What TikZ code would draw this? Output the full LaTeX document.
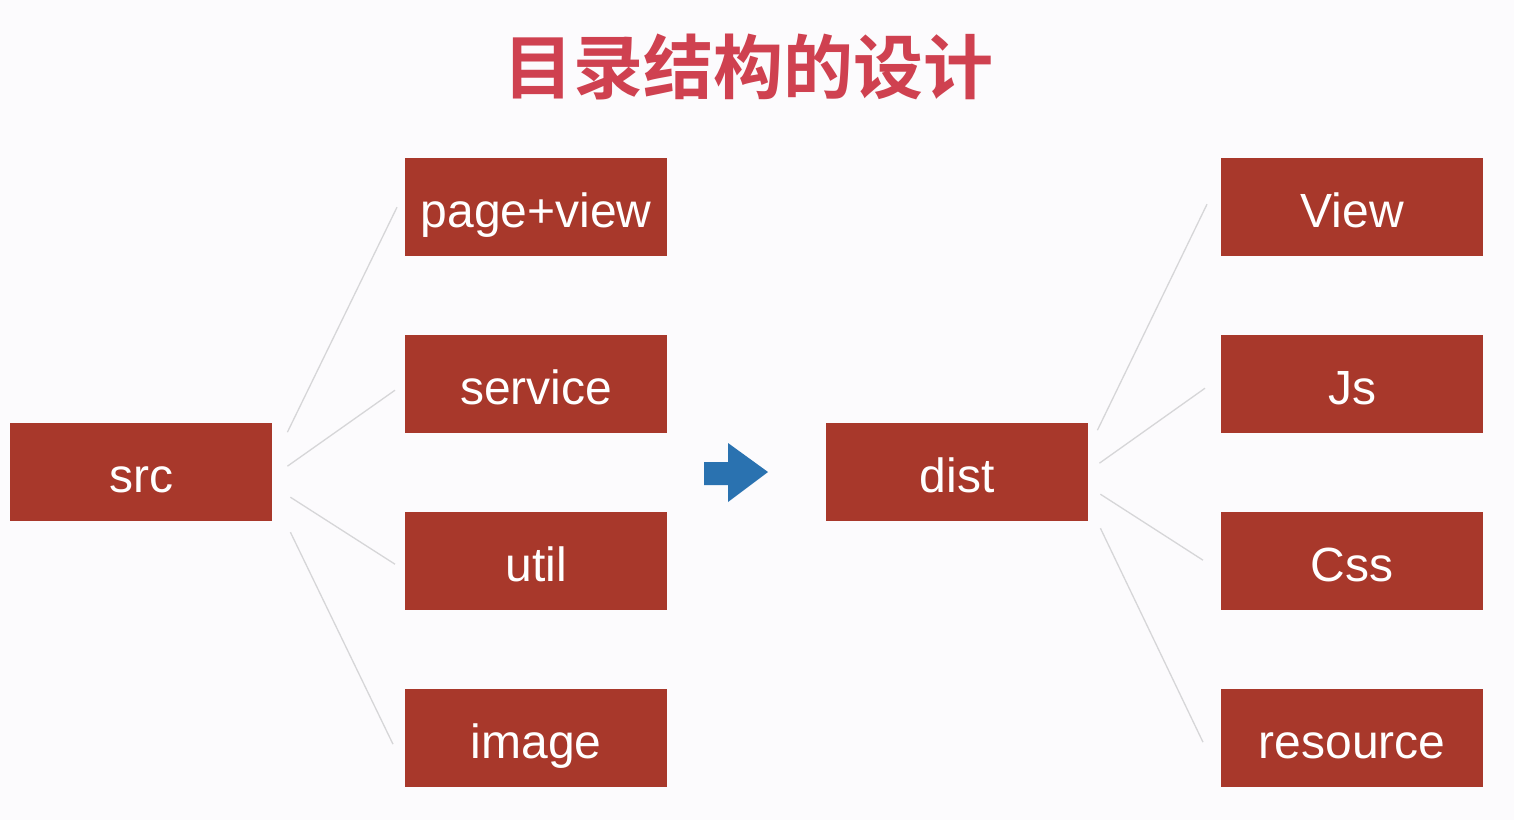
\documentclass[tikz,border=0pt]{standalone}
\usepackage{fontspec}
\setmainfont{Liberation Sans}
\newfontfamily\cjk{Noto Sans CJK SC Bold}
\definecolor{boxred}{HTML}{A8382B}
\definecolor{titlered}{HTML}{CF4150}
\definecolor{bgc}{HTML}{FCFBFD}
\definecolor{linec}{HTML}{D6D6D8}
\definecolor{arrowblue}{HTML}{2A72B0}
\tikzset{
  dirbox/.style={fill=boxred, draw=none, minimum width=262pt, minimum height=98pt, inner sep=0pt, text height=40pt, text depth=0pt, text=white, font=\fontsize{48}{52}\selectfont, anchor=north west},
  link/.style={draw=linec, line width=1.3pt},
}
\begin{document}
\begin{tikzpicture}[x=1pt,y=-1pt]
\fill[bgc] (0,0) rectangle (1514,820);
\useasboundingbox (0,0) rectangle (1514,820);
\node[text=titlered, font=\cjk\fontsize{70}{80}\selectfont, inner sep=0pt] (title) at (748,67) {目录结构的设计};
% left tree
\node[dirbox] (src) at (10,423) {src};
\node[dirbox] (pv) at (405,158) {page+view};
\node[dirbox] (service) at (405,335) {service};
\node[dirbox] (util) at (405,512) {util};
\node[dirbox] (image) at (405,689) {image};
% right tree
\node[dirbox] (dist) at (826,423) {dist};
\node[dirbox] (view) at (1221,158) {View};
\node[dirbox] (js) at (1221,335) {Js};
\node[dirbox] (css) at (1221,512) {Css};
\node[dirbox] (res) at (1221,689) {resource};
% connectors
\draw[link] ([shift={(15,-40)}]src.east) -- ([shift={(-8,0)}]pv.west);
\draw[link] ([shift={(15,-6)}]src.east) -- ([shift={(-10,6)}]service.west);
\draw[link] ([shift={(18,25)}]src.east) -- ([shift={(-10,3)}]util.west);
\draw[link] ([shift={(18,60)}]src.east) -- ([shift={(-12,6)}]image.west);
\draw[link] ([shift={(9,-42)}]dist.east) -- ([shift={(-14,-3)}]view.west);
\draw[link] ([shift={(11,-9)}]dist.east) -- ([shift={(-16,4)}]js.west);
\draw[link] ([shift={(12,22)}]dist.east) -- ([shift={(-18,-1)}]css.west);
\draw[link] ([shift={(12,56)}]dist.east) -- ([shift={(-18,4)}]res.west);
% arrow
\fill[arrowblue] (704,462) -- (728,462) -- (728,443) -- (768,472) -- (728,502) -- (728,485) -- (704,485) -- cycle;
\end{tikzpicture}
\end{document}
